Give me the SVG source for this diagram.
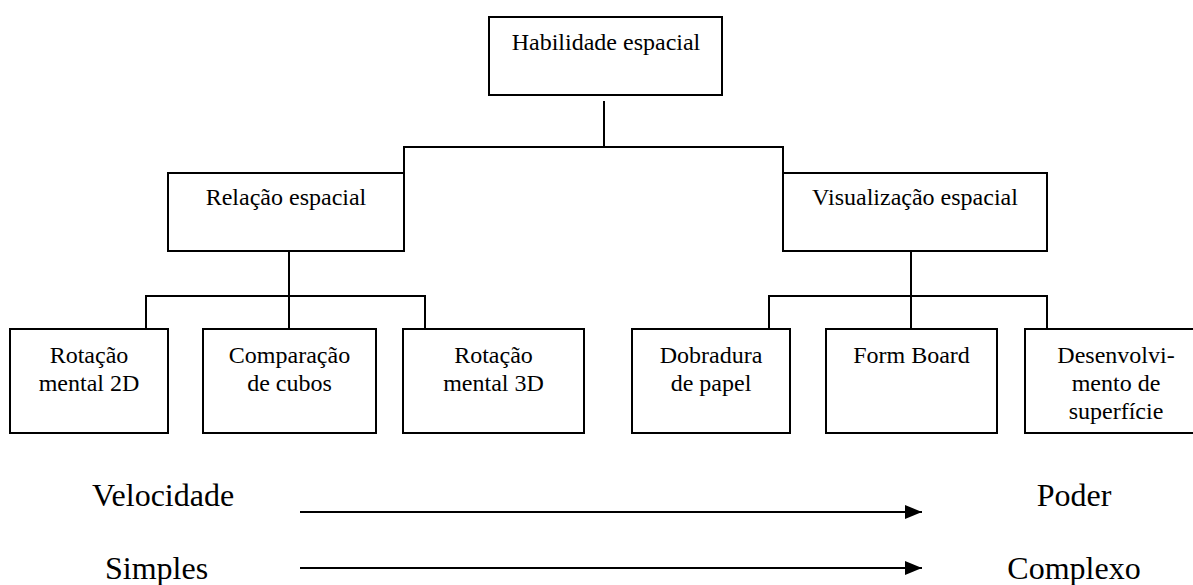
<svg xmlns="http://www.w3.org/2000/svg" width="1193" height="585" viewBox="0 0 1193 585">
  <style>
    .box { fill: #fff; stroke: #000; stroke-width: 2; }
    .lbl { font-size: 24px; fill: #000; text-anchor: middle; }
    .axis { font-size: 32px; fill: #000; }
    .wire { fill: none; stroke: #000; stroke-width: 2; }
    .arrow { fill: none; stroke: #000; stroke-width: 2; marker-end: url(#head); }
  </style>
  <defs>
    <marker id="head" markerWidth="18" markerHeight="14" refX="17" refY="7" orient="auto" markerUnits="userSpaceOnUse">
      <path d="M0,0 L17,7 L0,14 Z" fill="#000"/>
    </marker>
  </defs>
  <rect width="1193" height="585" fill="#fff"/>

  <!-- tree connectors -->
  <g id="connectors">
    <path class="wire" d="M604,101 V147 M404,173 V147 H783 V173"/>
    <path class="wire" d="M289,251 V296 M146,329 V296 H425 V329 M289,296 V329"/>
    <path class="wire" d="M911,251 V296 M769,329 V296 H1047 V329 M911,296 V329"/>
  </g>

  <g font-family="'Liberation Serif', 'DejaVu Serif', serif">
    <g id="habilidade">
      <rect class="box" x="489" y="17" width="233" height="78"/>
      <text class="lbl" x="606" y="50">Habilidade espacial</text>
    </g>

    <g id="relacao">
      <rect class="box" x="168" y="173" width="236" height="78"/>
      <text class="lbl" x="286" y="205">Relação espacial</text>
    </g>

    <g id="visualizacao">
      <rect class="box" x="783" y="173" width="264" height="78"/>
      <text class="lbl" x="915" y="205">Visualização espacial</text>
    </g>

    <g id="rotacao2d">
      <rect class="box" x="10" y="329" width="158" height="104"/>
      <text class="lbl" x="89" y="363">Rotação</text>
      <text class="lbl" x="89" y="391">mental 2D</text>
    </g>

    <g id="cubos">
      <rect class="box" x="203" y="329" width="173" height="104"/>
      <text class="lbl" x="289.5" y="363">Comparação</text>
      <text class="lbl" x="289.5" y="391">de cubos</text>
    </g>

    <g id="rotacao3d">
      <rect class="box" x="403" y="329" width="181" height="104"/>
      <text class="lbl" x="493.5" y="363">Rotação</text>
      <text class="lbl" x="493.5" y="391">mental 3D</text>
    </g>

    <g id="dobradura">
      <rect class="box" x="632" y="329" width="158" height="104"/>
      <text class="lbl" x="711" y="363">Dobradura</text>
      <text class="lbl" x="711" y="391">de papel</text>
    </g>

    <g id="formboard">
      <rect class="box" x="826" y="329" width="171" height="104"/>
      <text class="lbl" x="911.5" y="363">Form Board</text>
    </g>

    <g id="desenvolvimento">
      <rect class="box" x="1025" y="329" width="182" height="104"/>
      <text class="lbl" x="1116" y="363">Desenvolvi-</text>
      <text class="lbl" x="1116" y="391">mento de</text>
      <text class="lbl" x="1116" y="419">superfície</text>
    </g>

    <!-- progression scales -->
    <g id="escala-velocidade">
      <text class="axis" x="92" y="506">Velocidade</text>
      <path class="arrow" d="M300,512 H922"/>
      <text class="axis" x="1074" y="506" text-anchor="middle">Poder</text>
    </g>

    <g id="escala-complexidade">
      <text class="axis" x="105" y="579">Simples</text>
      <path class="arrow" d="M300,568 H922"/>
      <text class="axis" x="1074" y="579" text-anchor="middle">Complexo</text>
    </g>
  </g>
</svg>
